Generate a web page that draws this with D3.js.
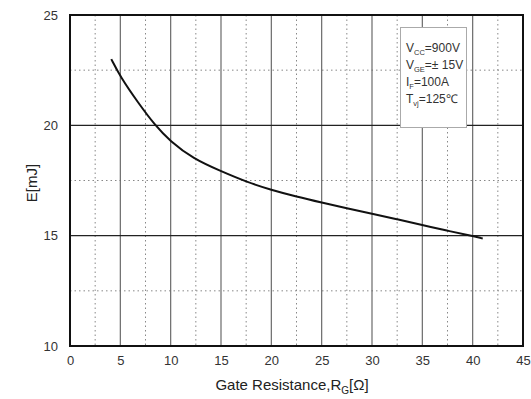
<!DOCTYPE html>
<html><head><meta charset="utf-8">
<script src="https://cdn.jsdelivr.net/npm/d3@7"></script>
<style>body{margin:0;background:#fff}svg{display:block}text{font-family:"Liberation Sans",Arial,sans-serif}</style>
</head><body>
<svg id="c" width="531" height="399"></svg>
<script>
const rg = [4.1, 5.0, 6.8, 8.45, 9.9, 12.25, 15, 17.5, 20, 22.5, 25, 27.5, 30, 32.5, 35, 37.4, 40, 41];
const energy = [23.0, 22.2, 21.0, 20.0, 19.3, 18.48, 17.92, 17.44, 17.07, 16.77, 16.5, 16.24, 16.0, 15.74, 15.48, 15.23, 14.99, 14.87];
const xTicks = [0, 5, 10, 15, 20, 25, 30, 35, 40, 45];
const yTicks = [10, 15, 20, 25];
const xMinor = [2.5, 7.5, 12.5, 17.5, 22.5, 27.5, 32.5, 37.5, 42.5];
const yMinor = [12.5, 17.5, 22.5];
const legendLines = [["V","CC","=900V"],["V","GE","=\u00B1 15V"],["I","F","=100A"],["T","vj","=125\u2103"]];

const svg = d3.select("#c");
const L = 70, R = 523, T = 15, B = 346;
const x = d3.scaleLinear().domain([0,45]).range([L,R]);
const y = d3.scaleLinear().domain([10,25]).range([B,T]);

svg.selectAll(".vx").data(xMinor).join("line")
  .attr("x1",d=>x(d)).attr("x2",d=>x(d)).attr("y1",T).attr("y2",B)
  .attr("stroke","#888").attr("stroke-width",1).attr("stroke-dasharray","1.5,3");
svg.selectAll(".hy").data(yMinor).join("line")
  .attr("y1",d=>y(d)).attr("y2",d=>y(d)).attr("x1",L).attr("x2",R)
  .attr("stroke","#888").attr("stroke-width",1).attr("stroke-dasharray","1.5,3");
svg.selectAll(".vmaj").data(xTicks.slice(1,-1)).join("line")
  .attr("x1",d=>x(d)).attr("x2",d=>x(d)).attr("y1",T).attr("y2",B)
  .attr("stroke","#6a6a6a").attr("stroke-width",1.2);
svg.selectAll(".hmaj").data(yTicks.slice(1,-1)).join("line")
  .attr("y1",d=>y(d)).attr("y2",d=>y(d)).attr("x1",L).attr("x2",R)
  .attr("stroke","#222").attr("stroke-width",1.2);

const xa = svg.append("g").attr("transform",`translate(0,${B})`)
  .call(d3.axisBottom(x).tickValues(xTicks).tickSize(0).tickPadding(10));
xa.select(".domain").remove();
xa.selectAll("text").attr("font-size",13).attr("fill","#333").style("font-family","Liberation Sans, Arial, sans-serif");
const ya = svg.append("g").attr("transform",`translate(${L},0)`)
  .call(d3.axisLeft(y).tickValues(yTicks).tickSize(0).tickPadding(12));
ya.select(".domain").remove();
ya.selectAll("text").attr("font-size",13).attr("fill","#333").style("font-family","Liberation Sans, Arial, sans-serif");

const lg = svg.append("g");
lg.append("rect").attr("x",400.5).attr("y",27.5).attr("width",66).attr("height",100)
  .attr("fill","#fff").attr("stroke","#aaa").attr("stroke-width",1);
legendLines.forEach((l,i)=>{
  const t = lg.append("text").attr("x",406).attr("y",52+i*17).attr("font-size",12).attr("fill","#333");
  t.append("tspan").text(l[0]);
  t.append("tspan").attr("dy",3).attr("font-size",7.5).text(l[1]);
  t.append("tspan").attr("dy",-3).text(l[2]);
});

const line = d3.line().x((d,i)=>x(rg[i])).y(d=>y(d)).curve(d3.curveBasis);
svg.append("path").datum(energy).attr("d",line).attr("fill","none")
  .attr("stroke","#111").attr("stroke-width",2);

svg.append("rect").attr("x",L).attr("y",T).attr("width",R-L).attr("height",B-T)
  .attr("fill","none").attr("stroke","#111").attr("stroke-width",2);

const xt = svg.append("text").attr("x",292).attr("y",390).attr("text-anchor","middle")
  .attr("font-size",15).attr("fill","#222");
xt.append("tspan").text("Gate Resistance,R");
xt.append("tspan").attr("dy",4).attr("font-size",10).text("G");
xt.append("tspan").attr("dy",-4).text("[\u03A9]");
svg.append("text").attr("transform","translate(37,183) rotate(-90)").attr("text-anchor","middle")
  .attr("font-size",15).attr("fill","#222").text("E[mJ]");
</script>
</body></html>
